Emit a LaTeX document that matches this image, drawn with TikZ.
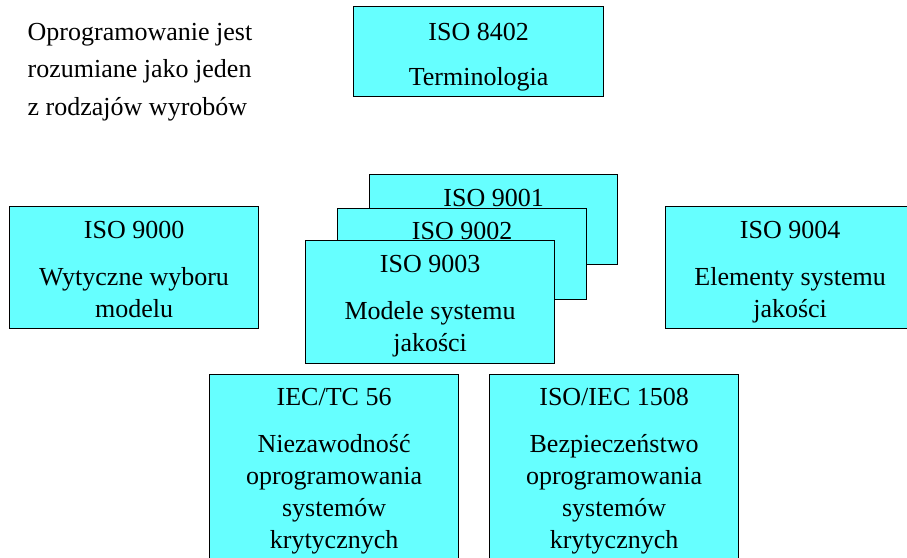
\documentclass[tikz,border=0pt]{standalone}
\usepackage{fontspec}
\setmainfont{Liberation Serif}
\definecolor{boxcyan}{RGB}{102,255,255}
\newcommand{\tstrut}{\rule{0pt}{20pt}}
\begin{document}
\begin{tikzpicture}[x=1pt,y=-1pt,
  box/.style={draw=black, line width=1.2pt, fill=boxcyan, rectangle, inner sep=0pt, anchor=north west},
  txt/.style={font=\fontsize{26}{32}\selectfont, align=center, inner sep=0pt, anchor=north}]
\clip (0,0) rectangle (907,557);

% left text
\node[font=\fontsize{26}{37.5}\selectfont, align=left, inner sep=0pt, anchor=north west] (intro) at (27.5,20)
  {\tstrut Oprogramowanie jest\\rozumiane jako jeden\\z rodzajów wyrobów};

% ISO 8402
\node[box, minimum width=250pt, minimum height=90pt] (b8402) at (353,6) {};
\node[txt] (t8402) at ([yshift=-14pt]b8402.north) {\tstrut ISO 8402\\[13pt]Terminologia};

% ISO 9000
\node[box, minimum width=249pt, minimum height=122pt] (b9000) at (9,206) {};
\node[txt] (t9000) at ([yshift=-12pt]b9000.north) {\tstrut ISO 9000\\[15pt]Wytyczne wyboru\\modelu};

% ISO 9001 / 9002 / 9003 stack
\node[box, minimum width=248pt, minimum height=90pt] (b9001) at (369,174) {};
\node[txt] (t9001) at ([yshift=-12pt]b9001.north) {\tstrut ISO 9001};

\node[box, minimum width=249pt, minimum height=91pt] (b9002) at (337,208) {};
\node[txt] (t9002) at ([yshift=-11.5pt]b9002.north) {\tstrut ISO 9002};

\node[box, minimum width=249pt, minimum height=123pt] (b9003) at (305,240) {};
\node[txt] (t9003) at ([yshift=-12.5pt]b9003.north) {\tstrut ISO 9003\\[15pt]Modele systemu\\jakości};

% ISO 9004
\node[box, minimum width=249pt, minimum height=122pt] (b9004) at (665,206) {};
\node[txt] (t9004) at ([yshift=-12pt]b9004.north) {\tstrut ISO 9004\\[15pt]Elementy systemu\\jakości};

% IEC/TC 56
\node[box, minimum width=249pt, minimum height=200pt] (bIEC) at (209,374) {};
\node[txt] (tIEC) at ([yshift=-11pt]bIEC.north) {\tstrut IEC/TC 56\\[15.5pt]Niezawodność\\oprogramowania\\systemów\\krytycznych};

% ISO/IEC 1508
\node[box, minimum width=249pt, minimum height=200pt] (b1508) at (489,374) {};
\node[txt] (t1508) at ([yshift=-11pt]b1508.north) {\tstrut ISO/IEC 1508\\[15.5pt]Bezpieczeństwo\\oprogramowania\\systemów\\krytycznych};
\end{tikzpicture}
\end{document}
